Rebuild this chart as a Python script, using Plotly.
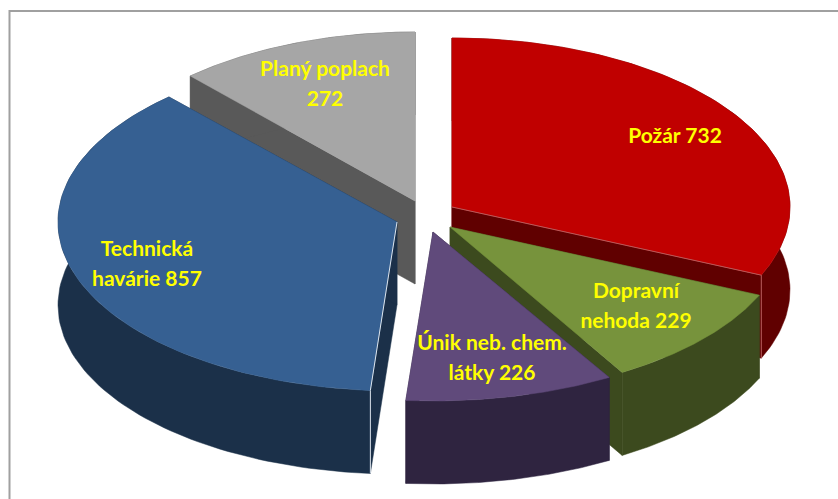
import numpy as np
import plotly.graph_objects as go

# Data
categories = ["Požár", "Dopravní nehoda", "Únik neb. chem. látky", "Technická havárie", "Planý poplach"]
values = [732, 229, 226, 857, 272]
label_lines = [["Požár 732"], ["Dopravní", "nehoda 229"], ["Únik neb. chem.", "látky 226"],
               ["Technická", "havárie 857"], ["Planý poplach", "272"]]

# Styles and layout
top_colors = ["#C00000", "#77933C", "#604A7B", "#366092", "#A6A6A6"]
wall_colors = ["#600000", "#3C4A1E", "#2F2440", "#1B3049", "#595959"]
edge_colors = ["#B85A5A", None, None, "#DCE4EC", None]
apexes = [(452, 207), (450, 227), (433, 232), (397, 222), (415, 201)]
radii_x = [338, 338, 346, 339, 334]
label_pos = [[(675, 138)], [(636, 293), (636, 323)], [(492, 345), (492, 375)],
             [(147, 251), (147, 281)], [(325, 71), (325, 101)]]
RY, DEPTH = 169, 83
draw_order = [4, 0, 3, 1, 2]

fractions = np.array(values) / sum(values)
ends = np.cumsum(fractions) * 2 * np.pi
starts = ends - fractions * 2 * np.pi


def point(apex, rx, ang, dy=0):
    return apex[0] + rx * np.sin(ang), apex[1] - RY * np.cos(ang) + dy


def poly(xs, ys, color, name):
    return go.Scatter(x=list(xs) + [xs[0]], y=list(ys) + [ys[0]], mode="lines", fill="toself",
                      fillcolor=color, line=dict(color=color, width=0.5), name=name,
                      hoverinfo="name", showlegend=False)


fig = go.Figure()
for i in draw_order:
    ap, rx, s, e, name = apexes[i], radii_x[i], starts[i], ends[i], categories[i]
    arc = np.linspace(s, e, 90)
    ax, ay = point(ap, rx, arc)
    # side faces
    for ang in (s, e):
        cx, cy = point(ap, rx, ang)
        fig.add_trace(poly([ap[0], cx, cx, ap[0]], [ap[1], cy, cy + DEPTH, ap[1] + DEPTH], wall_colors[i], name))
    # outer wall
    fig.add_trace(poly(list(ax) + list(ax[::-1]), list(ay) + list((ay + DEPTH)[::-1]), wall_colors[i], name))
    # top face
    fig.add_trace(poly([ap[0]] + list(ax), [ap[1]] + list(ay), top_colors[i], name))
    # light bevel edge at the corner of the slice
    if edge_colors[i]:
        ang = e if i == 0 else s
        cx, cy = point(ap, rx, ang)
        fig.add_trace(go.Scatter(x=[ap[0], cx, cx], y=[ap[1], cy, cy + DEPTH], mode="lines",
                                 line=dict(color=edge_colors[i], width=1), hoverinfo="skip", showlegend=False))

for lines, poss in zip(label_lines, label_pos):
    fig.add_trace(go.Scatter(x=[p[0] for p in poss], y=[p[1] for p in poss], mode="text", text=lines,
                             textposition="middle center",
                             textfont=dict(family="Lato", size=21, color="#FFFF00", weight="bold"),
                             hoverinfo="skip", showlegend=False))

fig.update_layout(
    width=838, height=499, margin=dict(l=0, r=0, t=0, b=0),
    paper_bgcolor="white", plot_bgcolor="white", showlegend=False,
    xaxis=dict(range=[0, 838], visible=False, fixedrange=True),
    yaxis=dict(range=[499, 0], visible=False, fixedrange=True),
    shapes=[dict(type="rect", x0=9.5, y0=11, x1=860, y1=520, line=dict(color="#A0A0A0", width=2), layer="below")],
)
fig.write_html("out.html", config={"displayModeBar": False},
               post_script="document.body.style.margin='0';document.body.style.overflow='hidden';")
